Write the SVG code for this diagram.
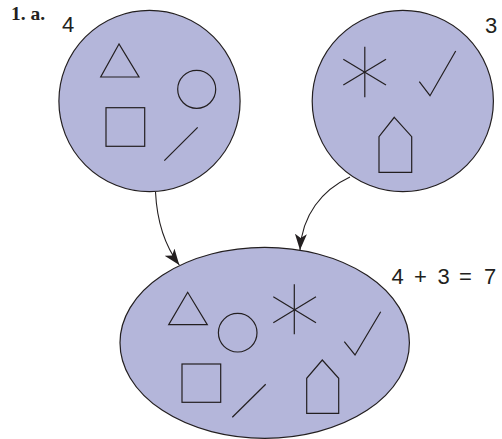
<svg xmlns="http://www.w3.org/2000/svg" width="502" height="439" viewBox="0 0 502 439">
<defs>
<style>
.set{fill:#b4b6da;stroke:#231f20;stroke-width:1.2}
.sh{fill:none;stroke:#231f20;stroke-width:1.2;stroke-linejoin:miter}
.conn{fill:none;stroke:#231f20;stroke-width:1.1}
.num{font-family:"Liberation Sans",Arial,sans-serif;font-size:22px;fill:#231f20}
.lbl{font-family:"Liberation Serif","Times New Roman",serif;font-size:19.5px;font-weight:bold;fill:#231f20}
</style>
<marker id="ah" markerUnits="userSpaceOnUse" markerWidth="18" markerHeight="12" refX="16" refY="6" orient="auto" viewBox="0 0 18 12">
<path d="M0,0 L16,6 L0,12 L4,6 z" fill="#231f20"/>
</marker>
</defs>
<rect width="502" height="439" fill="#ffffff"/>
<text class="lbl" x="11" y="20">1. a.</text>
<g id="set-a">
<circle class="set" cx="149.5" cy="101" r="90.6"/>
<polygon class="sh" points="119,44 100.7,77 139,77"/>
<circle class="sh" cx="196.7" cy="89.3" r="19"/>
<rect class="sh" x="106" y="107.7" width="38.7" height="38.6"/>
<line class="sh" x1="164.3" y1="160.7" x2="197.7" y2="127.3"/>
<text class="num" x="62" y="32">4</text>
</g>
<g id="set-b">
<circle class="set" cx="402.8" cy="101" r="90.6"/>
<line class="sh" x1="364.8" y1="46.7" x2="364.8" y2="97.3"/>
<line class="sh" x1="343.3" y1="59.3" x2="386" y2="85"/>
<line class="sh" x1="343.3" y1="85" x2="386" y2="59.3"/>
<polyline class="sh" points="419.3,81.7 430,95.7 455.7,51"/>
<polygon class="sh" points="394.3,117.3 411.7,136.7 411.7,172.3 379,172.3 379,136.7"/>
<text class="num" x="485" y="33">3</text>
</g>
<g id="set-sum">
<ellipse class="set" cx="264.7" cy="342.8" rx="144.7" ry="95.5"/>
<polygon class="sh" points="187.7,292.3 168.7,324.7 207.3,324.7"/>
<circle class="sh" cx="237.7" cy="332.7" r="19.3"/>
<line class="sh" x1="294.3" y1="284.3" x2="294.3" y2="334.3"/>
<line class="sh" x1="273.3" y1="296.7" x2="316" y2="322.7"/>
<line class="sh" x1="273.3" y1="322.7" x2="316" y2="296.7"/>
<polyline class="sh" points="344.3,341.7 355,355 380.7,311.7"/>
<rect class="sh" x="182" y="364" width="38.7" height="38.3"/>
<line class="sh" x1="232.3" y1="417.3" x2="265.7" y2="384.3"/>
<polygon class="sh" points="322.3,360 338.7,378.3 338.7,413.3 306.7,413.3 306.7,378.3"/>
</g>
<g id="sum-label">
<text class="num" x="391.5" y="284">4</text>
<text class="num" x="414" y="284">+</text>
<text class="num" x="437.5" y="284">3</text>
<text class="num" x="459" y="284">=</text>
<text class="num" x="484" y="284">7</text>
</g>
<g id="connectors">
<path class="conn" d="M155.5,192 C157,222 165,246 179.3,265" marker-end="url(#ah)"/>
<path class="conn" d="M350,177 C322,190 302,215 300,250" marker-end="url(#ah)"/>
</g>
</svg>
